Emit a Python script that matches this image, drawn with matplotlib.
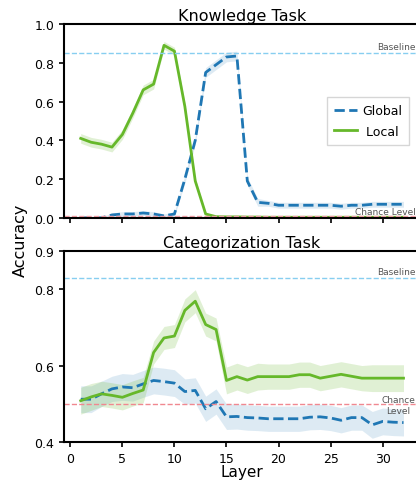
import numpy as np
import matplotlib.pyplot as plt

layers = list(range(1, 33))

# Knowledge task accuracy per layer
know_global = [0.0, 0.0, 0.0, 0.015, 0.02, 0.02, 0.025, 0.02, 0.01, 0.02,
               0.20, 0.40, 0.75, 0.79, 0.83, 0.835, 0.19, 0.08, 0.075, 0.065,
               0.065, 0.065, 0.065, 0.065, 0.065, 0.06, 0.065, 0.065, 0.07, 0.07,
               0.07, 0.07]
know_global_err = [0.005, 0.005, 0.005, 0.01, 0.012, 0.012, 0.012, 0.012, 0.01, 0.012,
                   0.02, 0.02, 0.025, 0.025, 0.025, 0.025, 0.02, 0.02, 0.015, 0.015,
                   0.015, 0.015, 0.015, 0.015, 0.015, 0.015, 0.015, 0.015, 0.015, 0.015,
                   0.015, 0.015]
know_local = [0.41, 0.39, 0.38, 0.365, 0.43, 0.54, 0.66, 0.69, 0.89, 0.86,
              0.575, 0.19, 0.02, 0.006, 0.005, 0.005, 0.004, 0.004, 0.003, 0.003,
              0.003, 0.003, 0.003, 0.003, 0.003, 0.003, 0.003, 0.003, 0.003, 0.003,
              0.003, 0.003]
know_local_err = [0.025, 0.025, 0.025, 0.025, 0.025, 0.025, 0.025, 0.025, 0.02, 0.02,
                  0.02, 0.015, 0.008, 0.004, 0.003, 0.003, 0.003, 0.003, 0.003, 0.003,
                  0.003, 0.003, 0.003, 0.003, 0.003, 0.003, 0.003, 0.003, 0.003, 0.003,
                  0.003, 0.003]

# Categorization task accuracy per layer
cat_global = [0.513, 0.513, 0.527, 0.54, 0.545, 0.543, 0.553, 0.562, 0.559, 0.555,
              0.533, 0.536, 0.488, 0.507, 0.467, 0.468, 0.465, 0.464, 0.462, 0.462,
              0.462, 0.462, 0.466, 0.467, 0.464, 0.458, 0.465, 0.465, 0.446, 0.455,
              0.453, 0.452]
cat_global_err = [0.035, 0.035, 0.033, 0.033, 0.035, 0.035, 0.035, 0.035, 0.035, 0.035,
                  0.033, 0.033, 0.033, 0.033, 0.033, 0.033, 0.033, 0.033, 0.033, 0.033,
                  0.033, 0.033, 0.033, 0.033, 0.033, 0.033, 0.033, 0.033, 0.035, 0.035,
                  0.035, 0.035]
cat_local = [0.509, 0.519, 0.527, 0.523, 0.518, 0.528, 0.537, 0.635, 0.673, 0.678,
             0.745, 0.769, 0.708, 0.695, 0.562, 0.572, 0.563, 0.572, 0.572, 0.572,
             0.572, 0.577, 0.577, 0.568, 0.573, 0.578, 0.573, 0.568, 0.568, 0.568,
             0.568, 0.568]
cat_local_err = [0.035, 0.035, 0.033, 0.033, 0.033, 0.033, 0.033, 0.03, 0.03, 0.03,
                 0.03, 0.03, 0.03, 0.03, 0.035, 0.035, 0.035, 0.035, 0.033, 0.033,
                 0.033, 0.033, 0.033, 0.033, 0.033, 0.033, 0.033, 0.033, 0.035, 0.035,
                 0.035, 0.035]

know_baseline, know_chance = 0.85, 0.01
cat_baseline, cat_chance = 0.83, 0.5

blue = '#1f77b4'
green = '#66b82a'

fig = plt.figure(figsize=(4.16, 4.81), dpi=100)
ax0 = fig.add_axes([0.154, 0.545, 0.856, 0.403])
ax1 = fig.add_axes([0.154, 0.078, 0.856, 0.398])

x = np.array(layers)


def draw_panel(ax, g, ge, l, le):
    g, ge, l, le = map(np.array, (g, ge, l, le))
    ax.fill_between(x, g - ge, g + ge, color=blue, alpha=0.15, lw=0)
    ax.fill_between(x, l - le, l + le, color=green, alpha=0.2, lw=0)
    ax.plot(x, g, color=blue, lw=2, ls='--', label='Global')
    ax.plot(x, l, color=green, lw=2, label=' Local')


draw_panel(ax0, know_global, know_global_err, know_local, know_local_err)
draw_panel(ax1, cat_global, cat_global_err, cat_local, cat_local_err)

xmax = 33.6
for ax in (ax0, ax1):
    ax.set_xlim(-0.6, xmax)
    ax.set_xticks([0, 5, 10, 15, 20, 25, 30])
    ax.tick_params(labelsize=9, width=1.2, length=3.5)
    for s in ax.spines.values():
        s.set_linewidth(1.5)

ax0.set_ylim(0, 1.0)
ax0.set_yticks([0.0, 0.2, 0.4, 0.6, 0.8, 1.0])
ax0.tick_params(labelbottom=False)
ax0.axhline(know_baseline, color='#87cef0', ls='--', lw=1)
ax0.axhline(know_chance, color='#f4a0a8', ls='--', lw=1)
ax0.text(33.2, know_baseline + 0.01, 'Baseline', fontsize=6.5, color='#555555',
         ha='right', va='bottom')
ax0.text(33.2, know_chance - 0.003, 'Chance Level', fontsize=6.5, color='#555555',
         ha='right', va='bottom')
ax0.set_title('Knowledge Task', fontsize=11.5, pad=3)
ax0.legend(loc='center', bbox_to_anchor=(0.854, 0.5), fontsize=9,
           handlelength=1.8, handletextpad=0.4, borderpad=0.6,
           labelspacing=0.6, fancybox=False)

ax1.set_ylim(0.4, 0.9)
ax1.set_yticks([0.4, 0.6, 0.8, 0.9])
ax1.axhline(cat_baseline, color='#87cef0', ls='--', lw=1)
ax1.axhline(cat_chance, color='#f08890', ls='--', lw=1)
ax1.text(33.2, cat_baseline + 0.004, 'Baseline', fontsize=6.5, color='#555555',
         ha='right', va='bottom')
ax1.text(33.1, cat_chance - 0.002, 'Chance\nLevel', fontsize=6.5, color='#555555',
         ha='right', va='center', multialignment='center')
ax1.set_title('Categorization Task', fontsize=11.5, pad=3)
ax1.set_xlabel('Layer', fontsize=11, labelpad=-1)

fig.text(0.05, 0.5, 'Accuracy', fontsize=11.5, rotation=90, ha='center', va='center')

fig.savefig('out.png', dpi=100)
